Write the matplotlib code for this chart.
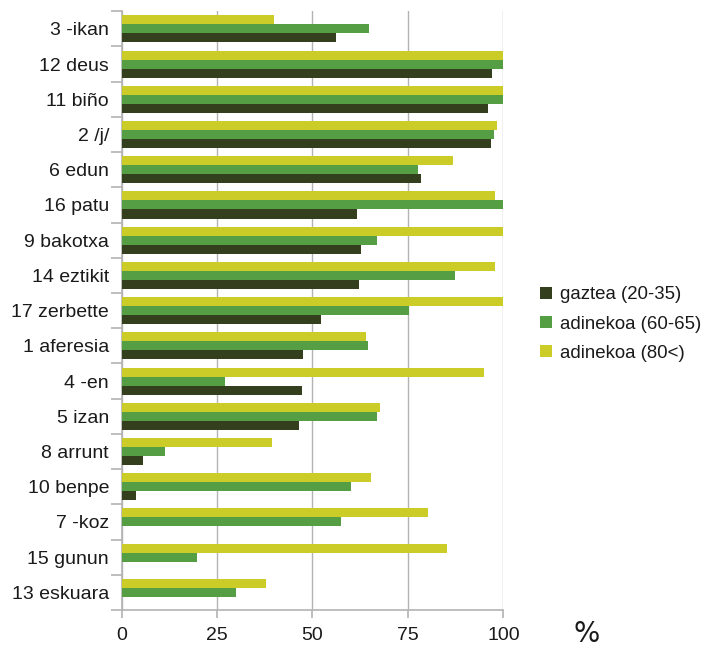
import matplotlib
matplotlib.use("Agg")
import matplotlib.pyplot as plt
import numpy as np

plt.rcParams["font.family"] = ["Liberation Sans", "DejaVu Sans"]

categories = ["3 -ikan", "12 deus", "11 biño", "2 /j/", "6 edun", "16 patu", "9 bakotxa",
              "14 eztikit", "17 zerbette", "1 aferesia", "4 -en", "5 izan", "8 arrunt",
              "10 benpe", "7 -koz", "15 gunun", "13 eskuara"]
gaztea = [56.1, 96.9, 95.9, 96.7, 78.4, 61.6, 62.7, 62.1, 52.2, 47.5, 47.2, 46.4, 5.6,
          3.8, 0, 0, 0]
adinekoa_60 = [64.7, 100, 100, 97.5, 77.6, 100, 66.8, 87.3, 75.2, 64.5, 27.1, 66.8, 11.3,
               60.0, 57.4, 19.7, 29.9]
adinekoa_80 = [39.9, 100, 100, 98.3, 86.7, 97.7, 100, 97.7, 100, 64.0, 94.9, 67.6, 39.4,
               65.3, 80.2, 85.2, 37.8]
series_labels = ["gaztea (20-35)", "adinekoa (60-65)", "adinekoa (80<)"]
colors = ["#34401d", "#559e44", "#cccc29"]
x_ticks = [0, 25, 50, 75, 100]

fig = plt.figure(figsize=(7.07, 6.48), dpi=100)
ax = fig.add_axes([0.172, 0.0586, 0.540, 0.924])

y = np.arange(len(categories))
h = 0.256
# top to bottom inside each group: 80<, 60-65, 20-35
handles = []
for offset, vals, color, label in zip([h, 0, -h], [gaztea, adinekoa_60, adinekoa_80],
                                      colors, series_labels):
    b = ax.barh(y + offset, vals, height=h, color=color, label=label, zorder=3)
    handles.append(b)

ax.set_xlim(0, 100)
ax.set_ylim(len(categories) - 0.5, -0.5)
ax.set_xticks(x_ticks)
ax.set_xticklabels([str(t) for t in x_ticks], fontsize=14)
ax.set_yticks(y)
ax.set_yticklabels(categories, fontsize=14, color="#1a1a1a")
ax.tick_params(axis="y", which="major", length=0, pad=9)
ax.set_yticks(np.arange(len(categories) + 1) - 0.5, minor=True)
ax.tick_params(axis="y", which="minor", length=8, color="#b3b3b3", width=1.2)
ax.tick_params(axis="x", length=6, color="#b3b3b3", width=1.2, pad=6, labelcolor="#1a1a1a")

ax.grid(axis="x", color="#b3b3b3", linewidth=1, zorder=0)
for side in ["top", "right"]:
    ax.spines[side].set_visible(False)
for side in ["left", "bottom"]:
    ax.spines[side].set_color("#b3b3b3")
    ax.spines[side].set_linewidth(1.2)

fig.text(0.830, 0.0215, "%", fontsize=20, ha="center", va="center", color="#1a1a1a",
         family="DejaVu Sans")

fig.legend(handles=handles, labels=series_labels, loc="center left",
           bbox_to_anchor=(0.764, 0.50), frameon=False, fontsize=13.4,
           handlelength=0.65, handleheight=0.65, handletextpad=0.4, labelspacing=0.65,
           borderaxespad=0, borderpad=0, labelcolor="#1a1a1a")

fig.savefig("out.png", dpi=100)
